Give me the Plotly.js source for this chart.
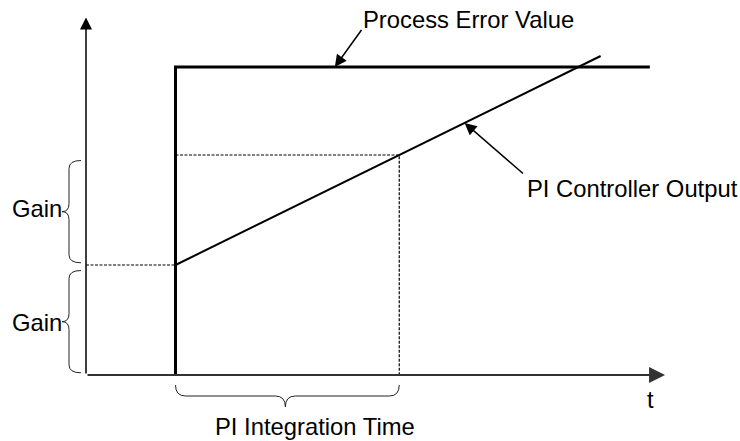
<!DOCTYPE html>
<html>
<head>
<meta charset="utf-8">
<script src="https://cdn.plot.ly/plotly-3.0.1.min.js"></script>
<style>
  html, body { margin: 0; padding: 0; background: #fff; }
  #chart { width: 740px; height: 441px; }
</style>
</head>
<body>
<div id="chart"></div>
<script>
// PI controller step response sketch
// time in arbitrary units, values in units of "gain"
const stepTime = 1;
const integrationTime = 2.5;
const gainLevels = [0, 1, 2];

const errorT = [1, 1, 6.3];
const errorV = [0, 2.8, 2.8];

const outputT = [1, 5.75];
const outputV = [1, 2.9];

const axisEnd = [6.47, 3.25];   // tips of the t axis and value axis

// pixel -> data helpers for the fixed 740x441 frame
const pxT = 89.5, pxV = 110;
const dT = px => px / pxT;
const dV = px => px / pxV;

const endT = stepTime + integrationTime;
const font = { family: 'Liberation Sans, Arial, sans-serif', size: 23.8, color: '#000' };

const traces = [
  {   // process error step
    x: errorT, y: errorV, mode: 'lines',
    line: { color: '#000', width: 3 }
  },
  {   // PI output ramp
    x: outputT, y: outputV, mode: 'lines',
    line: { color: '#000', width: 2 }
  },
  {   // dashed guide at first gain
    x: [0, stepTime], y: [gainLevels[1], gainLevels[1]], mode: 'lines',
    line: { color: '#000', width: 1.2, dash: '3px,1.5px' }
  },
  {   // dashed guide at end of integration time
    x: [stepTime, endT, endT], y: [gainLevels[2], gainLevels[2], gainLevels[0]], mode: 'lines',
    line: { color: '#000', width: 1.2, dash: '3px,1.5px' }
  }
];

// curly brace pointing left, spanning lo..hi on the value axis
function leftBrace(lo, hi) {
  const xe = dT(81 - 86), xs = dT(69 - 86), xt = dT(62 - 86);
  const r = dV(8);
  const top = hi - 0.05, bot = lo + 0.02, mid = (top + bot) / 2;
  return `M ${xe},${top} Q ${xs},${top} ${xs},${top - r} L ${xs},${mid + r} ` +
         `Q ${xs},${mid} ${xt},${mid} Q ${xs},${mid} ${xs},${mid - r} ` +
         `L ${xs},${bot + r} Q ${xs},${bot} ${xe},${bot}`;
}

// curly brace pointing down, spanning t0..t1 under the axis
function downBrace(t0, t1) {
  const ye = -dV(10), ys = -dV(21), yt = -dV(32);
  const r = dT(10);
  const mid = (t0 + t1) / 2 - dT(2);
  return `M ${t0},${ye} Q ${t0},${ys} ${t0 + r},${ys} L ${mid - r},${ys} ` +
         `Q ${mid},${ys} ${mid},${yt} Q ${mid},${ys} ${mid + r},${ys} ` +
         `L ${t1 - r},${ys} Q ${t1},${ys} ${t1},${ye}`;
}

const braceLine = { color: '#222', width: 1 };
const shapes = [
  { type: 'path', xref: 'x', yref: 'y', path: leftBrace(gainLevels[1], gainLevels[2]), line: braceLine },
  { type: 'path', xref: 'x', yref: 'y', path: leftBrace(gainLevels[0], gainLevels[1]), line: braceLine },
  { type: 'path', xref: 'x', yref: 'y', path: downBrace(stepTime, endT), line: braceLine }
];

function arrow(x, y, ax, ay, color, width) {
  return {
    x: x, y: y, ax: ax, ay: ay, xref: 'x', yref: 'y', axref: 'x', ayref: 'y',
    text: '', showarrow: true, arrowhead: 2, arrowsize: 1.6, arrowwidth: width || 1.5,
    arrowcolor: color || '#000', standoff: 0, startstandoff: 0
  };
}

const outAt = t => outputV[0] + (outputV[1] - outputV[0]) * (t - outputT[0]) / (outputT[1] - outputT[0]);
const errPointT = 2.78, outPointT = 4.23;

const annotations = [
  arrow(axisEnd[0], 0, 0, 0, '#333', 2),
  arrow(0, axisEnd[1], 0, 0, '#000', 1.5),
  arrow(errPointT, errorV[2], 3.09, 3.15),
  arrow(outPointT, outAt(outPointT), 4.9, 1.82),
  { x: 3.07, y: 3.23, text: 'Process Error Value', xanchor: 'left' },
  { x: 4.9, y: 1.70, text: 'PI Controller Output', xanchor: 'left' },
  { x: 6.31, y: -0.227, text: 't', xanchor: 'center' },
  { x: 2.56, y: -0.47, text: 'PI Integration Time', xanchor: 'center' },
  { x: dT(64 - 86), y: 1.51, text: 'Gain', xanchor: 'right' },
  { x: dT(64 - 86), y: 0.48, text: 'Gain', xanchor: 'right' }
].map(a => Object.assign({ xref: 'x', yref: 'y', showarrow: false, yanchor: 'middle', font: font }, a));

const layout = {
  width: 740, height: 441,
  margin: { l: 0, r: 0, t: 0, b: 0 },
  paper_bgcolor: '#fff', plot_bgcolor: '#fff',
  showlegend: false, hovermode: false,
  xaxis: { visible: false, range: [-dT(86), dT(740 - 86)] },
  yaxis: { visible: false, range: [-dV(441 - 375), dV(375)] },
  shapes: shapes,
  annotations: annotations
};

Plotly.newPlot('chart', traces, layout, { staticPlot: true, displayModeBar: false });
</script>
</body>
</html>
